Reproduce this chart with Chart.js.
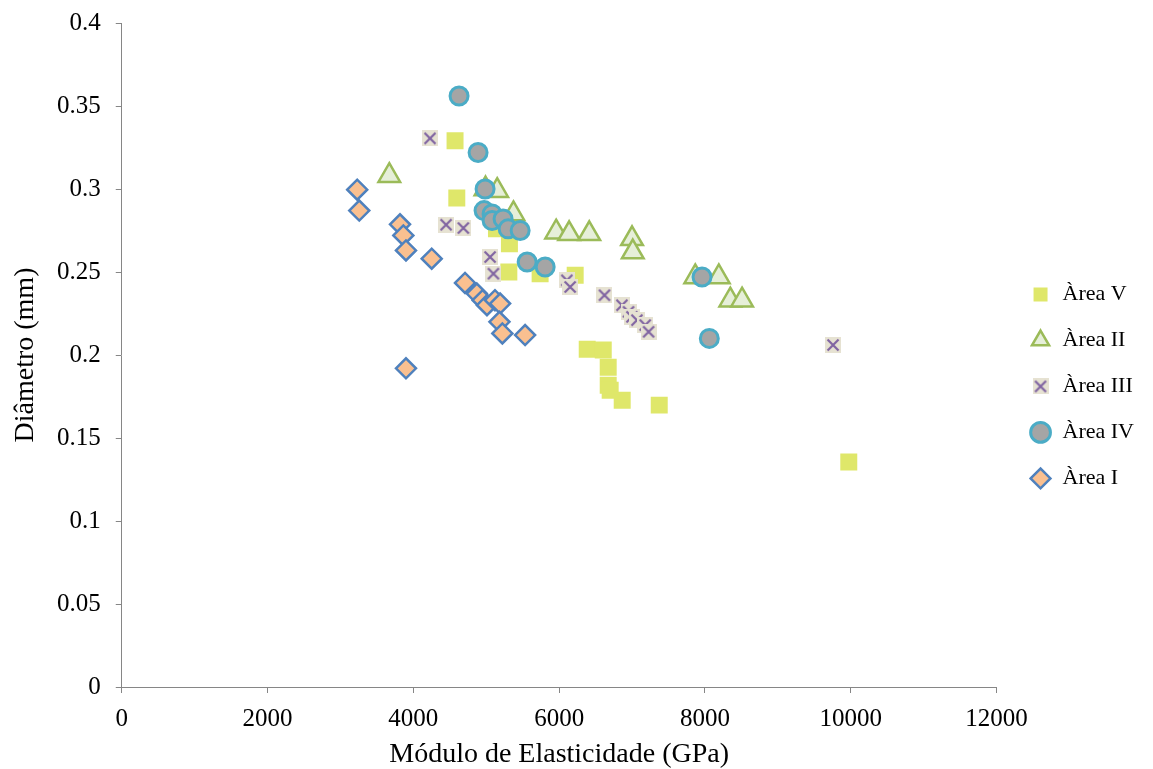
<!DOCTYPE html>
<html>
<head>
<meta charset="utf-8">
<script src="https://cdn.jsdelivr.net/npm/chart.js@4/dist/chart.umd.min.js"></script>
<style>
html,body{margin:0;padding:0;background:#fff;}
#wrap{width:1153px;height:769px;position:relative;}
</style>
</head>
<body>
<div id="wrap"><canvas id="c" width="1153" height="769"></canvas></div>
<script>
// Data (Módulo de Elasticidade in GPa, Diâmetro in mm)
const areaV_x   = [4572, 4596, 5140, 5318, 5310, 5739, 6220, 6385, 6605, 6673, 6673, 6700, 6865, 7373, 9973];
const areaV_y   = [0.329, 0.2946, 0.276, 0.267, 0.250, 0.249, 0.248, 0.2035, 0.203, 0.1926, 0.1818, 0.1788, 0.1728, 0.1698, 0.1356];

const areaII_x  = [3670, 4990, 5150, 5373, 5959, 6137, 6413, 7000, 7010, 7867, 8190, 8348, 8509];
const areaII_y  = [0.308, 0.300, 0.299, 0.285, 0.274, 0.273, 0.273, 0.270, 0.262, 0.247, 0.247, 0.233, 0.233];

const areaIII_x = [4229, 4449, 4686, 5053, 5098, 6106, 6151, 6622, 6861, 6952, 6998, 7067, 7181, 7227, 9757];
const areaIII_y = [0.3305, 0.2785, 0.2765, 0.259, 0.249, 0.245, 0.241, 0.236, 0.230, 0.226, 0.223, 0.221, 0.218, 0.214, 0.206];

const areaIV_x  = [4627, 4888, 4984, 4970, 5080, 5080, 5231, 5300, 5465, 5561, 5808, 7960, 8060];
const areaIV_y  = [0.356, 0.322, 0.300, 0.287, 0.285, 0.281, 0.282, 0.276, 0.275, 0.256, 0.253, 0.247, 0.210];

const areaI_x   = [3230, 3258, 3817, 3863, 3899, 4252, 4709, 4870, 4950, 5010, 5120, 5190, 5181, 5221, 5533, 3899];
const areaI_y   = [0.2996, 0.287, 0.2787, 0.272, 0.263, 0.258, 0.2434, 0.237, 0.233, 0.230, 0.233, 0.231, 0.220, 0.213, 0.212, 0.192];

const seriesNames = ['Àrea V', 'Àrea II', 'Àrea III', 'Àrea IV', 'Àrea I'];
const xTicks = [0, 2000, 4000, 6000, 8000, 10000, 12000];
const yTicks = [0, 0.05, 0.1, 0.15, 0.2, 0.25, 0.3, 0.35, 0.4];

function pts(xs, ys){ return xs.map((x, i) => ({x: x, y: ys[i]})); }

// custom marker: beige square with purple X
function makeXMarker(size){
  const c = document.createElement('canvas');
  c.width = size; c.height = size;
  const g = c.getContext('2d');
  g.fillStyle = '#e6e2d2';
  g.fillRect(0, 0, size, size);
  g.strokeStyle = '#8064a2';
  g.lineWidth = 2.2;
  const m = 2.5;
  g.beginPath();
  g.moveTo(m, m); g.lineTo(size - m, size - m);
  g.moveTo(size - m, m); g.lineTo(m, size - m);
  g.stroke();
  return c;
}
const xMarker = makeXMarker(16);

const serif = "'Liberation Serif', 'Times New Roman', serif";

const datasets = [
  { label: seriesNames[4], data: pts(areaI_x, areaI_y), pointStyle: 'rectRot', pointRadius: 10,
    backgroundColor: '#fac090', borderColor: '#4f81bd', borderWidth: 2.5 },
  { label: seriesNames[3], data: pts(areaIV_x, areaIV_y), pointStyle: 'circle', pointRadius: 9,
    backgroundColor: '#a5a5a5', borderColor: '#4bacc6', borderWidth: 3 },
  { label: seriesNames[2], data: pts(areaIII_x, areaIII_y), pointStyle: xMarker, pointRadius: 8,
    backgroundColor: '#e6e2d2', borderColor: '#8064a2', borderWidth: 0 },
  { label: seriesNames[1], data: pts(areaII_x, areaII_y), pointStyle: 'triangle', pointRadius: 12.5,
    backgroundColor: '#e6efd9', borderColor: '#9bbb59', borderWidth: 2.5 },
  { label: seriesNames[0], data: pts(areaV_x, areaV_y), pointStyle: 'rect', pointRadius: 12,
    backgroundColor: '#dfe76a', borderColor: '#dfe76a', borderWidth: 0 }
];

const legendShift = {
  id: 'legendShift',
  afterLayout(chart) {
    if (chart.legend) { chart.legend.left += 9; chart.legend.right += 9; }
  }
};

new Chart(document.getElementById('c'), {
  type: 'scatter',
  data: { datasets: datasets },
  plugins: [legendShift],
  options: {
    responsive: false,
    animation: false,
    events: [],
    layout: { padding: { left: 0, top: 23, right: 18, bottom: 0 } },
    plugins: {
      tooltip: { enabled: false },
      legend: {
        position: 'right',
        align: 'start',
        reverse: true,
        title: { display: true, text: ' ', padding: { top: 111, bottom: 111 }, font: { size: 12 } },
        labels: {
          usePointStyle: true,
          boxWidth: 22, boxHeight: 14,
          padding: 24,
          color: '#000',
          font: { family: serif, size: 22 }
        }
      }
    },
    scales: {
      x: {
        type: 'linear',
        min: 0, max: 12000,
        afterBuildTicks: (axis) => { axis.ticks = xTicks.map(v => ({ value: v })); },
        ticks: { color: '#000', font: { family: serif, size: 25, lineHeight: 1 }, padding: 14, maxRotation: 0,
                 callback: (v) => String(v) },
        grid: { display: true, drawOnChartArea: false, drawTicks: true, tickLength: 6, color: '#868686' },
        border: { display: true, color: '#868686', width: 1 },
        title: { display: true, text: 'Módulo de Elasticidade (GPa)', color: '#000',
                 font: { family: serif, size: 28, lineHeight: 1 }, padding: { top: -5, bottom: 0 } }
      },
      y: {
        type: 'linear',
        min: 0, max: 0.4,
        afterBuildTicks: (axis) => { axis.ticks = yTicks.map(v => ({ value: v })); },
        ticks: { color: '#000', font: { family: serif, size: 25, lineHeight: 0.6 }, padding: 15,
                 callback: (v) => String(+v.toFixed(2)) },
        grid: { display: true, drawOnChartArea: false, drawTicks: true, tickLength: 6, color: '#868686' },
        border: { display: true, color: '#868686', width: 1 },
        title: { display: true, text: 'Diâmetro (mm)', color: '#000',
                 font: { family: serif, size: 28, lineHeight: 1 }, padding: { top: 12, bottom: 2 } }
      }
    }
  }
});
</script>
</body>
</html>
